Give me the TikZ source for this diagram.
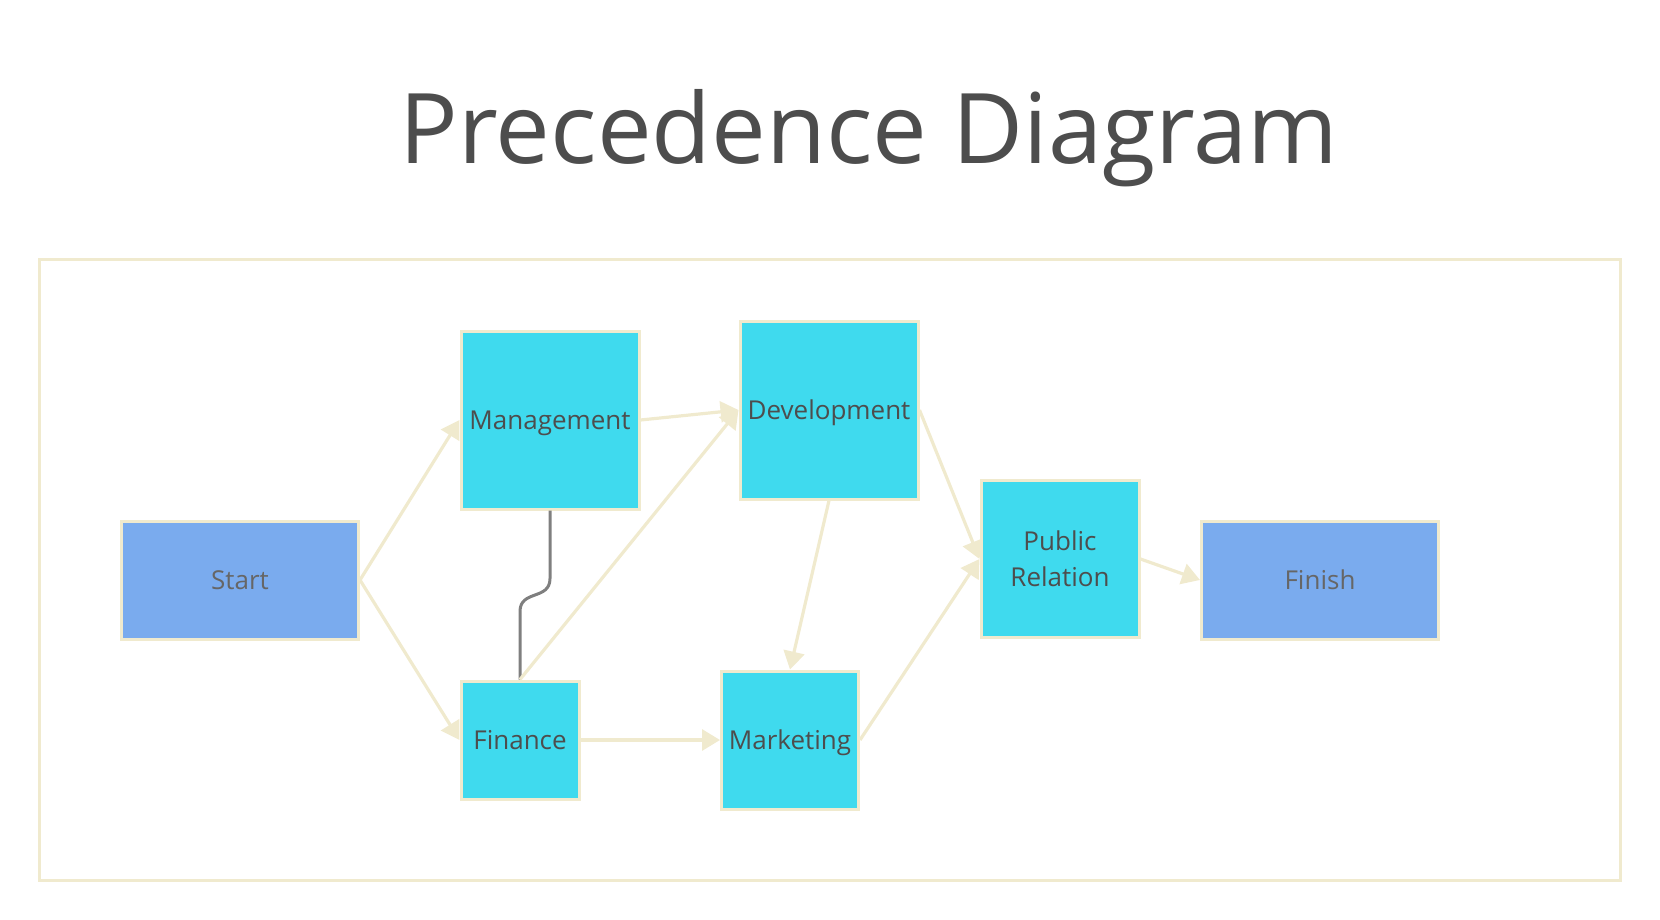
\documentclass[tikz,border=0pt]{standalone}
\usepackage{fontspec}
\setmainfont{Open Sans}
\usepackage{tikz}
\usetikzlibrary{arrows.meta,positioning,calc}
\definecolor{taskcyan}{HTML}{3FDAEE}
\definecolor{endblue}{HTML}{7AABEE}
\definecolor{cream}{HTML}{F0EACE}
\definecolor{inkgray}{HTML}{4D4D4D}
\definecolor{softgray}{HTML}{666666}
\definecolor{hookgray}{HTML}{7F7F7F}
\tikzset{
  task/.style={draw=cream, fill=taskcyan, line width=3pt, inner sep=2pt,
    align=center, text=inkgray, text depth=0pt, font=\fontsize{26}{36}\selectfont},
  terminal/.style={task, fill=endblue, text=softgray,
    minimum width=237pt, minimum height=118pt},
  edge/.style={-{Triangle[length=18pt,width=21pt]}, line width=3.2pt, color=cream},
  hook/.style={line width=3pt, color=hookgray},
  caphead/.style={font=\fontsize{97.5}{110}\selectfont, text=inkgray},
}
\begin{document}
\begin{tikzpicture}[x=1pt,y=-1pt]
  \useasboundingbox (0,0) rectangle (1660,920);
  \node[caphead] (title) at (869,138) {Precedence Diagram};
  % frame round the network
  \draw[cream, line width=3pt] (39,259) rectangle (1620,880);
  % activities
  \node[terminal] (start) at (240,580) {Start};
  \node[task, minimum width=178pt, minimum height=178pt] (mgmt) at (550,420) {Management};
  \node[task, minimum width=118pt, minimum height=118pt] (fin) at (520,740) {Finance};
  \node[task, minimum width=178pt, minimum height=178pt] (dev) at (829,410) {Development};
  \node[task, minimum width=137pt, minimum height=138pt] (mkt) at (790,740) {Marketing};
  \node[task, minimum width=158pt, minimum height=157pt] (pr) at (1060,559) {Public\\Relation};
  \node[terminal] (finish) at (1320,580) {Finish};
  % the lag link between management and finance
  \draw[hook] (mgmt.south) -- ++(0,68) .. controls +(0,22) and +(0,-22) .. ($(fin.north)+(0,-68)$) -- (fin.north);
  % precedence arrows
  \draw[edge] (start.east) -- (mgmt.west);
  \draw[edge] (start.east) -- (fin.west);
  \draw[edge] (mgmt.east) -- (dev.west);
  \draw[edge] (fin.north) -- (dev.west);
  \draw[edge] (fin.east) -- (mkt.west);
  \draw[edge] (dev.south) -- (mkt.north);
  \draw[edge] (dev.east) -- (pr.west);
  \draw[edge] (mkt.east) -- (pr.west);
  \draw[edge] (pr.east) -- (finish.west);
\end{tikzpicture}
\end{document}
